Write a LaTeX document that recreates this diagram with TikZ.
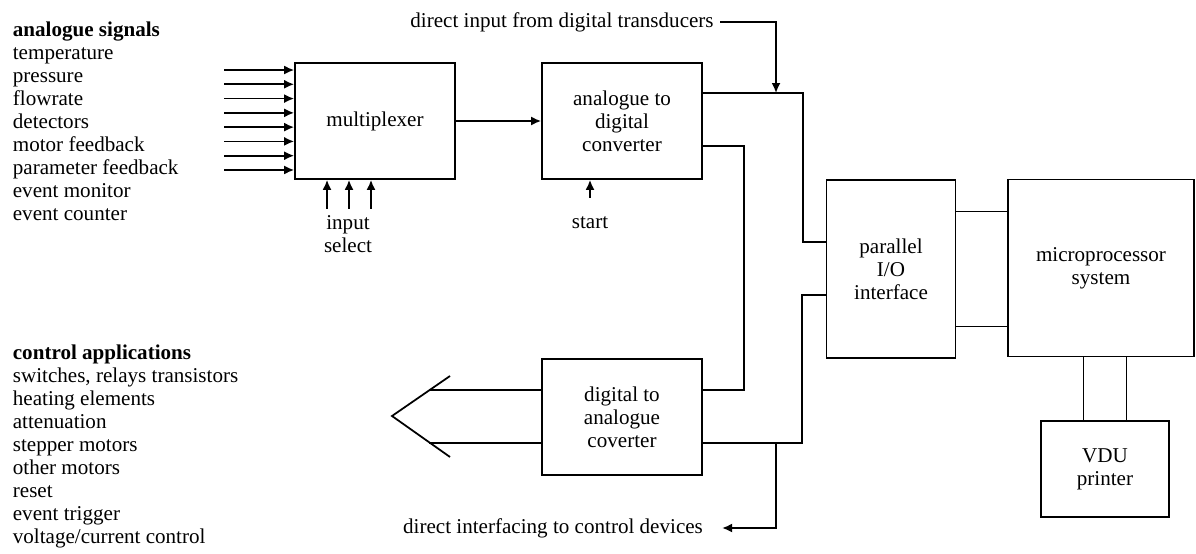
\documentclass[tikz,border=0pt]{standalone}
\usepackage{fontspec}
\setmainfont{Liberation Serif}
\usetikzlibrary{arrows.meta}

\begin{document}
\begin{tikzpicture}[
  x=0.02cm, y=-0.02cm,
  line width=1pt,
  every node/.style={
    font=\fontsize{12}{13.1}\selectfont,
    align=center
  },
  box/.style={draw, minimum width=3.2cm, minimum height=2.32cm},
  list/.style={align=left, anchor=north west, inner sep=0pt},
  arr/.style={-{Latex[length=2mm,width=1.8mm]}}
]
\useasboundingbox (0,0) rectangle (1196,554);

% signal lists
\node[list] (ain) at (12,21) {\textbf{analogue signals}\\ temperature\\ pressure\\ flowrate\\ detectors\\ motor feedback\\ parameter feedback\\ event monitor\\ event counter};
\node[list] (aout) at (12,344) {\textbf{control applications}\\ switches, relays transistors\\ heating elements\\ attenuation\\ stepper motors\\ other motors\\ reset\\ event trigger\\ voltage/current control};

% blocks
\node[box] (mux) at (375,121) {multiplexer};
\node[box] (adc) at (622,121) {analogue to\\ digital\\ converter};
\node[box] (dac) at (622,417) {digital to\\ analogue\\ coverter};
\node[box, minimum width=2.58cm, minimum height=3.56cm] (pio) at (891,269) {parallel\\ I/O\\ interface};
\node[box, minimum width=3.72cm, minimum height=3.54cm] (mpu) at (1101,268) {microprocessor\\ system};
\node[box, minimum width=2.56cm, minimum height=1.92cm] (vdu) at (1105,469) {VDU\\ printer};

% labels
\node (sel) at (348,234) {input\\ select};
\node (start) at (590,223) {start};
\node (dtx) at (562,22) {direct input from digital transducers};
\node (dif) at (553,528) {direct interfacing to control devices};

\coordinate (tapA) at (776,93);
\coordinate (tapB) at (776,443);
\coordinate (tip) at (392,416);

% multiplexer
\foreach \i in {0,...,7}
  \draw[arr] ([xshift=-1.4cm, yshift={1.02cm-\i*0.2857cm}]mux.west) -- ([yshift={1.02cm-\i*0.2857cm}]mux.west);
\foreach \dx in {-0.96,-0.52,-0.08}
  \draw[arr] ([xshift=\dx cm, yshift=-0.58cm]mux.south) -- ([xshift=\dx cm]mux.south);
\draw[arr] (mux) -- (adc);
\draw[arr] ([yshift=0.25cm]start.north) -- (start |- adc.south);

% buses to the I/O interface
\draw[arr] (dtx.east) -| (tapA);
\draw ([yshift=0.56cm]adc.east) -- ++(2cm,0) |- ([yshift=0.54cm]pio.west);
\draw ([yshift=-0.5cm]adc.east) -- ++(0.82cm,0) |- ([yshift=0.54cm]dac.east);
\draw ([yshift=-0.52cm]pio.west) -- ++(-0.47cm,0) |- ([yshift=-0.52cm]dac.east);
\draw[arr] (tapB) |- ([xshift=0.25cm]dif.east);

\foreach \dy in {1.15,-1.15}
  \draw ([yshift=\dy cm]pio.east) -- ([yshift=\dy cm]pio.east -| mpu.west);
\foreach \dx in {-0.43,0.43}
  \draw ([xshift=\dx cm]vdu.north) -- ([xshift=\dx cm]vdu.north |- mpu.south);

% outputs
\foreach \dy in {0.54,-0.52}
  \draw ([yshift=\dy cm]dac.west) -- ++(-2.24cm,0);
\draw ([shift={(58,-40)}]tip) -- (tip) -- ([shift={(58,41)}]tip);
\end{tikzpicture}
\end{document}
